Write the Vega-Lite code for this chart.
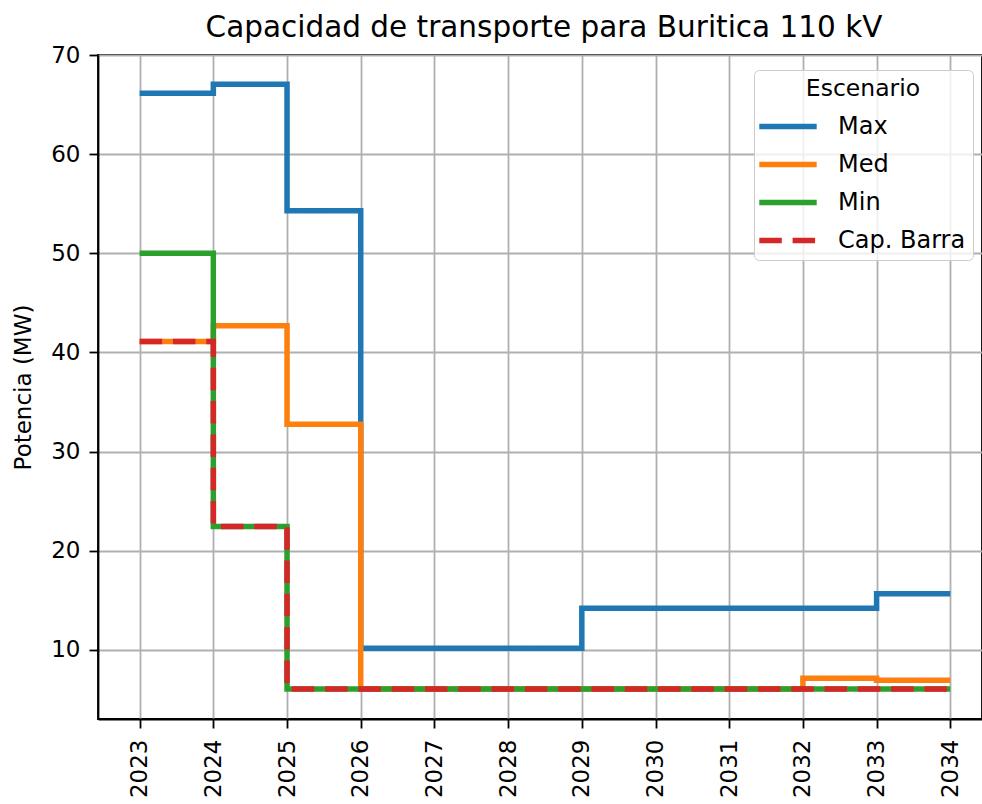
{
  "$schema": "https://vega.github.io/schema/vega-lite/v6.json",
  "autosize": "none",
  "width": 884,
  "height": 664,
  "padding": {"left": 98, "top": 55, "right": 0, "bottom": 85},
  "background": "white",
  "title": {
    "text": "Capacidad de transporte para Buritica 110 kV",
    "font": "DejaVu Sans",
    "fontSize": 29.5,
    "fontWeight": "normal",
    "color": "#000000",
    "anchor": "middle",
    "frame": "group",
    "baseline": "bottom",
    "offset": 12,
    "dx": 4,
    "dy": 40
  },
  "data": {
    "values": [
      {"year": 2023, "value": 66.14, "serie": "Max"},
      {"year": 2024, "value": 67.04, "serie": "Max"},
      {"year": 2025, "value": 54.3, "serie": "Max"},
      {"year": 2026, "value": 10.17, "serie": "Max"},
      {"year": 2027, "value": 10.17, "serie": "Max"},
      {"year": 2028, "value": 10.17, "serie": "Max"},
      {"year": 2029, "value": 14.2, "serie": "Max"},
      {"year": 2030, "value": 14.2, "serie": "Max"},
      {"year": 2031, "value": 14.2, "serie": "Max"},
      {"year": 2032, "value": 14.2, "serie": "Max"},
      {"year": 2033, "value": 15.68, "serie": "Max"},
      {"year": 2034, "value": 15.68, "serie": "Max"},
      {"year": 2023, "value": 41.1, "serie": "Med"},
      {"year": 2024, "value": 42.7, "serie": "Med"},
      {"year": 2025, "value": 32.76, "serie": "Med"},
      {"year": 2026, "value": 6.07, "serie": "Med"},
      {"year": 2027, "value": 6.07, "serie": "Med"},
      {"year": 2028, "value": 6.07, "serie": "Med"},
      {"year": 2029, "value": 6.07, "serie": "Med"},
      {"year": 2030, "value": 6.07, "serie": "Med"},
      {"year": 2031, "value": 6.07, "serie": "Med"},
      {"year": 2032, "value": 7.15, "serie": "Med"},
      {"year": 2033, "value": 6.94, "serie": "Med"},
      {"year": 2034, "value": 6.94, "serie": "Med"},
      {"year": 2023, "value": 50.0, "serie": "Min"},
      {"year": 2024, "value": 22.44, "serie": "Min"},
      {"year": 2025, "value": 6.07, "serie": "Min"},
      {"year": 2026, "value": 6.07, "serie": "Min"},
      {"year": 2027, "value": 6.07, "serie": "Min"},
      {"year": 2028, "value": 6.07, "serie": "Min"},
      {"year": 2029, "value": 6.07, "serie": "Min"},
      {"year": 2030, "value": 6.07, "serie": "Min"},
      {"year": 2031, "value": 6.07, "serie": "Min"},
      {"year": 2032, "value": 6.07, "serie": "Min"},
      {"year": 2033, "value": 6.07, "serie": "Min"},
      {"year": 2034, "value": 6.07, "serie": "Min"},
      {"year": 2023, "value": 41.1, "serie": "Cap. Barra"},
      {"year": 2024, "value": 22.44, "serie": "Cap. Barra"},
      {"year": 2025, "value": 6.07, "serie": "Cap. Barra"},
      {"year": 2026, "value": 6.07, "serie": "Cap. Barra"},
      {"year": 2027, "value": 6.07, "serie": "Cap. Barra"},
      {"year": 2028, "value": 6.07, "serie": "Cap. Barra"},
      {"year": 2029, "value": 6.07, "serie": "Cap. Barra"},
      {"year": 2030, "value": 6.07, "serie": "Cap. Barra"},
      {"year": 2031, "value": 6.07, "serie": "Cap. Barra"},
      {"year": 2032, "value": 6.07, "serie": "Cap. Barra"},
      {"year": 2033, "value": 6.07, "serie": "Cap. Barra"},
      {"year": 2034, "value": 6.07, "serie": "Cap. Barra"}
    ]
  },
  "mark": {"type": "line", "interpolate": "step-after", "strokeWidth": 5.5, "strokeCap": "butt", "clip": true},
  "encoding": {
    "x": {
      "field": "year",
      "type": "quantitative",
      "scale": {"domain": [2022.435, 2034.43], "nice": false, "zero": false},
      "axis": {
        "title": null,
        "values": [2023, 2024, 2025, 2026, 2027, 2028, 2029, 2030, 2031, 2032, 2033, 2034],
        "format": "d",
        "labelAngle": 270,
        "labelAlign": "right",
        "labelBaseline": "middle",
        "labelPadding": 11
      }
    },
    "y": {
      "field": "value",
      "type": "quantitative",
      "scale": {"domain": [3.04, 70], "nice": false, "zero": false},
      "axis": {
        "title": "Potencia (MW)",
        "values": [10, 20, 30, 40, 50, 60, 70],
        "titleX": -75,
        "titleY": 332,
        "titleAngle": 270,
        "titleAlign": "center",
        "titleBaseline": "middle",
        "labelPadding": 9
      }
    },
    "color": {
      "field": "serie",
      "type": "nominal",
      "sort": ["Max", "Med", "Min", "Cap. Barra"],
      "scale": {"domain": ["Max", "Med", "Min", "Cap. Barra"], "range": ["#1f77b4", "#ff7f0e", "#2ca02c", "#d62728"]},
      "legend": {"title": "Escenario"}
    },
    "strokeDash": {
      "field": "serie",
      "type": "nominal",
      "sort": ["Max", "Med", "Min", "Cap. Barra"],
      "scale": {"domain": ["Max", "Med", "Min", "Cap. Barra"], "range": [[1, 0], [1, 0], [1, 0], [22.5, 10.8]]},
      "legend": {"title": "Escenario"}
    },
    "order": {"field": "year"}
  },
  "config": {
    "font": "DejaVu Sans",
    "view": {"stroke": "#000000", "strokeWidth": 1.8},
    "axis": {
      "labelFont": "DejaVu Sans",
      "labelFontSize": 23,
      "labelColor": "#000000",
      "titleFont": "DejaVu Sans",
      "titleFontSize": 23,
      "titleFontWeight": "normal",
      "titleColor": "#000000",
      "domainColor": "#000000",
      "domainWidth": 1.8,
      "tickColor": "#000000",
      "tickWidth": 1.8,
      "tickSize": 9,
      "grid": true,
      "gridColor": "#b0b0b0",
      "gridWidth": 1.8,
      "labelOverlap": false,
      "labelFlush": false
    },
    "legend": {
      "orient": "none",
      "legendX": 656,
      "legendY": 15,
      "padding": 7,
      "fillColor": "rgba(255,255,255,0.8)",
      "strokeColor": "#cccccc",
      "cornerRadius": 5,
      "titleFont": "DejaVu Sans",
      "titleFontSize": 23.5,
      "titleFontWeight": "normal",
      "titleColor": "#000000",
      "titleAnchor": "middle",
      "titlePadding": 9,
      "labelFont": "DejaVu Sans",
      "labelFontSize": 24,
      "labelColor": "#000000",
      "labelOffset": 33,
      "symbolType": "M-2.05,0H2.05",
      "symbolSize": 784,
      "symbolOffset": 10,
      "symbolStrokeWidth": 5.5,
      "rowPadding": 9
    }
  }
}
